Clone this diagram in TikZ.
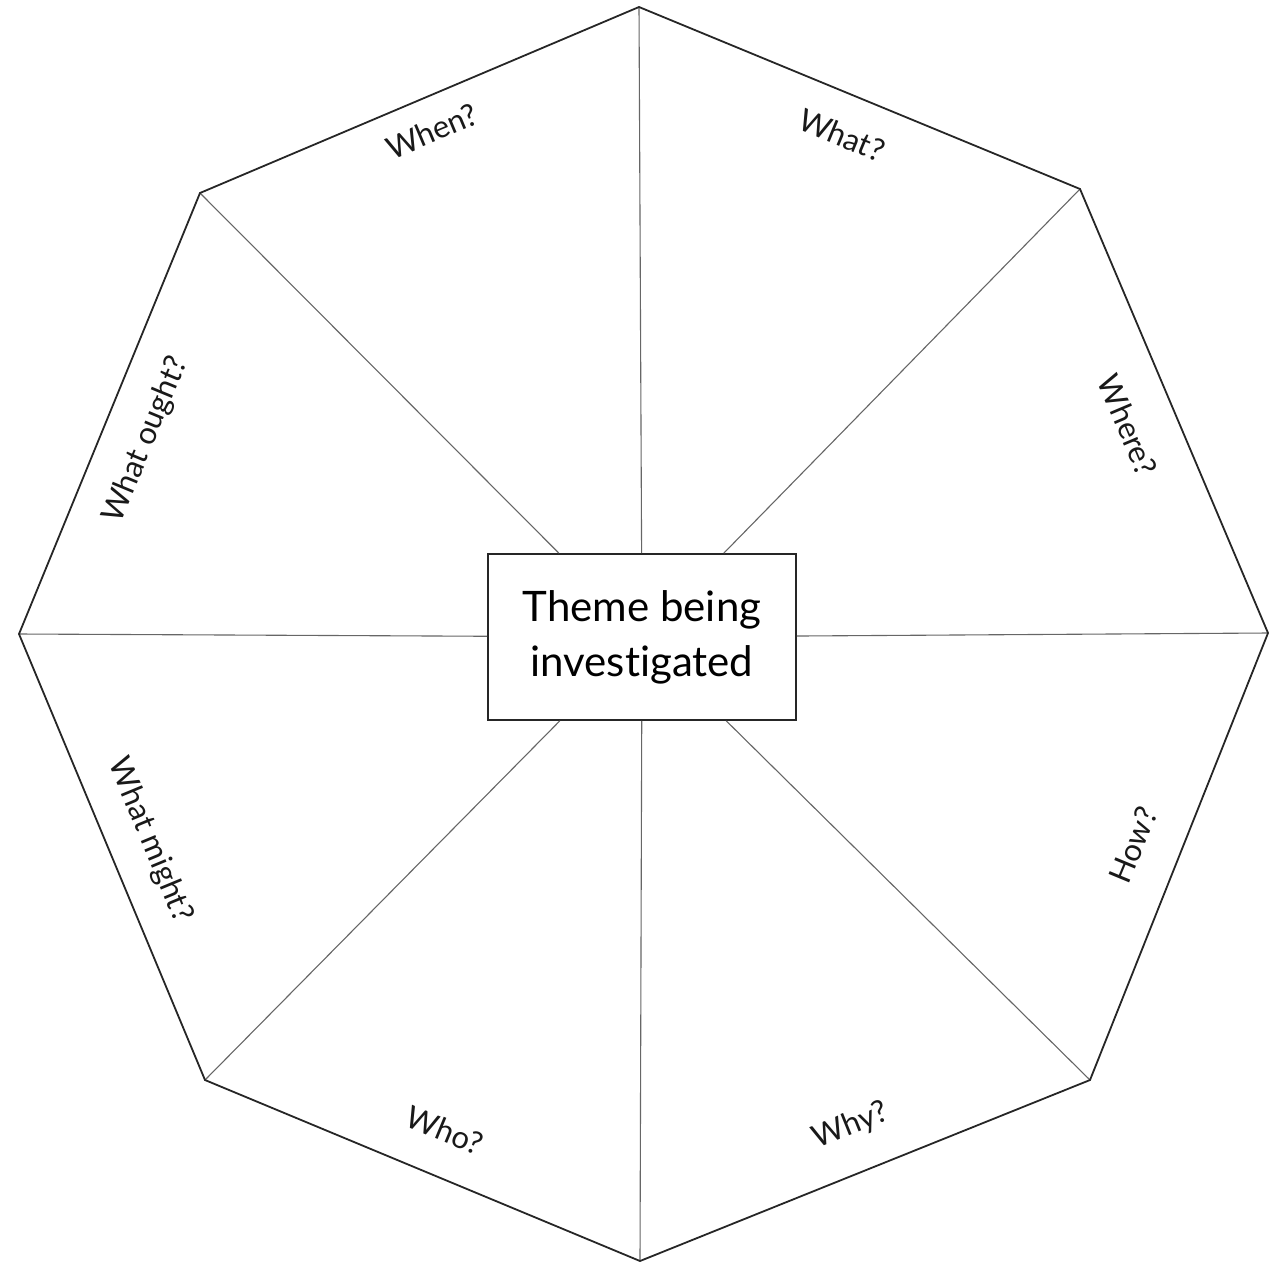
\documentclass[tikz,border=0pt]{standalone}
\usepackage{fontspec}
\setmainfont[Ligatures={NoCommon,NoRare}]{Lato}
\begin{document}
\begin{tikzpicture}[x=1pt,y=-1pt,
  edge/.style={draw=black!85, line width=1.8pt, line join=miter},
  spoke/.style={draw=black!60, line width=1.1pt},
  theme/.style={draw=black!85, line width=1.8pt, fill=white, minimum width=308pt, minimum height=166pt, align=center, font=\fontsize{42}{55}\selectfont, inner sep=0pt},
  lab/.style={font=\fontsize{31}{36}\selectfont, inner sep=0pt, text=black!90}]
\useasboundingbox (0,0) rectangle (1281,1266);
\coordinate (T) at (639,7);
\coordinate (TR) at (1080,189);
\coordinate (R) at (1268,633);
\coordinate (BR) at (1090,1080);
\coordinate (B) at (640,1261);
\coordinate (BL) at (205,1080);
\coordinate (L) at (19,634);
\coordinate (TL) at (200,193);
\node[theme] (box) at (642,637) {Theme being\\investigated};
\foreach \v in {T,TR,R,BR,B,BL,L,TL} \draw[spoke] (\v) -- (box);
\draw[edge] (T) -- (TR) -- (R) -- (BR) -- (B) -- (BL) -- (L) -- (TL) -- cycle;
\node[lab, rotate=22.8] (when) at (432,131) {When?};
\node[lab, rotate=-22.5] (what) at (842,135) {What?};
\node[lab, rotate=-67] (where) at (1128,425) {Where?};
\node[lab, rotate=67.5] (how) at (1133,845) {How?};
\node[lab, rotate=22] (why) at (851,1126) {Why?};
\node[lab, rotate=-22.5] (who) at (445,1130) {Who?};
\node[lab, rotate=-67.5] (might) at (150,840) {What might?};
\node[lab, rotate=67.5] (ought) at (146,440) {What ought?};
\end{tikzpicture}
\end{document}
